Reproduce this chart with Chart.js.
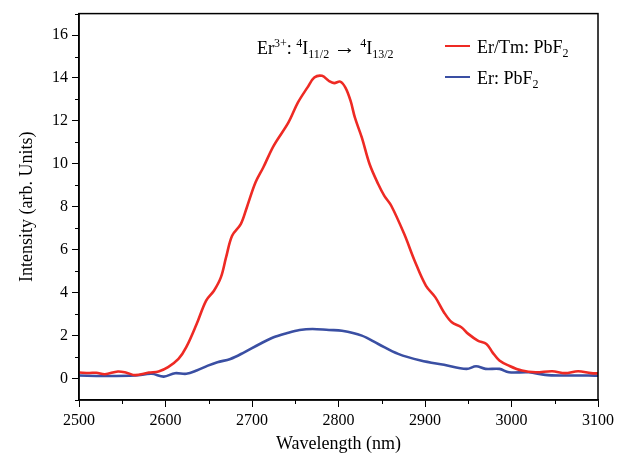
<!DOCTYPE html>
<html>
<head>
<meta charset="utf-8">
<script src="https://cdn.jsdelivr.net/npm/chart.js@4"></script>
<style>
  html, body { margin: 0; padding: 0; background: #fff; }
  #wrap { width: 618px; height: 459px; }
</style>
</head>
<body>
<div id="wrap"><canvas id="chart" width="618" height="459"></canvas></div>
<script>
// Er/Tm: PbF2 spectrum (red)
const erTmWavelength = [2500, 2512, 2520, 2530, 2545, 2555, 2565, 2581, 2592, 2603, 2615, 2624, 2636, 2647, 2656, 2664, 2670, 2677, 2687, 2694, 2704, 2713, 2725, 2742, 2753, 2764, 2772, 2781, 2789, 2795, 2802, 2808, 2814, 2819, 2827, 2836, 2846, 2853, 2861, 2876, 2888, 2901, 2912, 2922, 2931, 2942, 2950, 2961, 2971, 2978, 2986, 2997, 3012, 3028, 3047, 3062, 3077, 3092, 3100];
const erTmIntensity = [0.28, 0.26, 0.27, 0.2, 0.33, 0.27, 0.16, 0.28, 0.33, 0.53, 0.91, 1.46, 2.54, 3.63, 4.09, 4.71, 5.64, 6.65, 7.19, 7.97, 9.13, 9.83, 10.84, 11.92, 12.85, 13.55, 14.02, 14.1, 13.86, 13.76, 13.83, 13.55, 12.93, 12.15, 11.22, 9.98, 9.05, 8.51, 8.05, 6.73, 5.49, 4.33, 3.78, 3.08, 2.62, 2.39, 2.08, 1.77, 1.61, 1.22, 0.84, 0.6, 0.37, 0.29, 0.34, 0.25, 0.34, 0.25, 0.24];

// Er: PbF2 spectrum (blue)
const erWavelength = [2500, 2528, 2565, 2584, 2598, 2611, 2624, 2636, 2649, 2660, 2675, 2691, 2709, 2725, 2740, 2755, 2770, 2789, 2804, 2827, 2846, 2869, 2895, 2922, 2948, 2959, 2970, 2986, 2997, 3020, 3039, 3058, 3089, 3100];
const erIntensity = [0.14, 0.12, 0.14, 0.22, 0.09, 0.25, 0.22, 0.37, 0.6, 0.76, 0.91, 1.22, 1.61, 1.92, 2.11, 2.26, 2.31, 2.26, 2.23, 2.0, 1.61, 1.15, 0.84, 0.64, 0.45, 0.57, 0.45, 0.45, 0.29, 0.29, 0.17, 0.14, 0.14, 0.13];

const yTickValues = [0, 2, 4, 6, 8, 10, 12, 14, 16];

const serif = "'Liberation Serif', 'DejaVu Serif', serif";

function toPoints(xs, ys) {
  return xs.map((x, i) => ({ x: x, y: ys[i] }));
}

// frame, minor ticks, annotation and legend
const extras = {
  id: "extras",
  afterDraw(chart) {
    const ctx = chart.ctx;
    const a = chart.chartArea;
    const xs = chart.scales.x;
    const ys = chart.scales.y;
    ctx.save();
    ctx.strokeStyle = "#000";
    ctx.lineWidth = 1.5;
    ctx.strokeRect(a.left, a.top, a.right - a.left, a.bottom - a.top);

    ctx.lineWidth = 1;
    ctx.beginPath();
    for (let v = 2550; v < 3100; v += 100) {
      const px = Math.round(xs.getPixelForValue(v)) + 0.5;
      ctx.moveTo(px, a.bottom);
      ctx.lineTo(px, a.bottom + 4);
    }
    for (let v = -1; v <= 17; v += 2) {
      const py = Math.round(ys.getPixelForValue(v)) + 0.5;
      ctx.moveTo(a.left, py);
      ctx.lineTo(a.left - 4, py);
    }
    ctx.stroke();

    ctx.fillStyle = "#000";
    ctx.textBaseline = "alphabetic";
    ctx.textAlign = "left";
    const big = "18px " + serif;
    const small = "12px " + serif;
    // Er3+: 4I11/2 -> 4I13/2
    let x = 257;
    const base = 54;
    function put(text, font, dy) {
      ctx.font = font;
      ctx.fillText(text, x, base + dy);
      x += ctx.measureText(text).width;
    }
    put("Er", big, 0);
    put("3+", small, -7);
    put(": ", big, 0);
    put("4", small, -7);
    put("I", big, 0);
    put("11/2", small, 4);
    put(" ", big, 0);
    put("\u2192", "22px " + serif, 0);
    put(" ", big, 0);
    put("4", small, -7);
    put("I", big, 0);
    put("13/2", small, 4);

    // legend
    const items = [
      { label: "Er/Tm: PbF", color: "#ee2a24", y: 46 },
      { label: "Er: PbF", color: "#3a4fa3", y: 77 }
    ];
    items.forEach((it) => {
      ctx.strokeStyle = it.color;
      ctx.lineWidth = 2;
      ctx.beginPath();
      ctx.moveTo(445, it.y);
      ctx.lineTo(470, it.y);
      ctx.stroke();
      ctx.font = big;
      ctx.fillText(it.label, 477, it.y + 7);
      const w = ctx.measureText(it.label).width;
      ctx.font = small;
      ctx.fillText("2", 477 + w, it.y + 11);
    });
    ctx.restore();
  }
};

new Chart(document.getElementById("chart"), {
  type: "line",
  data: {
    datasets: [
      {
        label: "Er/Tm: PbF2",
        data: toPoints(erTmWavelength, erTmIntensity),
        borderColor: "#ee2a24",
        borderWidth: 2.6,
        pointRadius: 0,
        tension: 0.35,
        fill: false
      },
      {
        label: "Er: PbF2",
        data: toPoints(erWavelength, erIntensity),
        borderColor: "#3a4fa3",
        borderWidth: 2.6,
        pointRadius: 0,
        tension: 0.35,
        fill: false
      }
    ]
  },
  options: {
    responsive: false,
    animation: false,
    layout: { padding: { top: 12, right: 11, left: 12, bottom: 0 } },
    plugins: { legend: { display: false }, tooltip: { enabled: false } },
    scales: {
      x: {
        type: "linear",
        min: 2500,
        max: 3100,
        ticks: { stepSize: 100, color: "#000", padding: 4, maxRotation: 0, font: { family: serif, size: 16 }, callback: (v) => String(v) },
        grid: { drawOnChartArea: false, tickLength: 7, color: "#000", lineWidth: 1 },
        border: { color: "#000", width: 1.5 },
        title: { display: true, text: "Wavelength (nm)", color: "#000", font: { family: serif, size: 18 }, padding: { top: 6 } },
        afterFit(scale) { scale.height = 59; }
      },
      y: {
        min: -1,
        max: 17,
        afterBuildTicks(scale) { scale.ticks = yTickValues.map((v) => ({ value: v })); },
        ticks: { color: "#000", padding: 4, font: { family: serif, size: 16 } },
        grid: { drawOnChartArea: false, tickLength: 7, color: "#000", lineWidth: 1 },
        border: { color: "#000", width: 1.5 },
        title: { display: true, text: "Intensity (arb. Units)", color: "#000", font: { family: serif, size: 18 } },
        afterFit(scale) { scale.width = 67; }
      }
    }
  },
  plugins: [extras]
});
</script>
</body>
</html>
